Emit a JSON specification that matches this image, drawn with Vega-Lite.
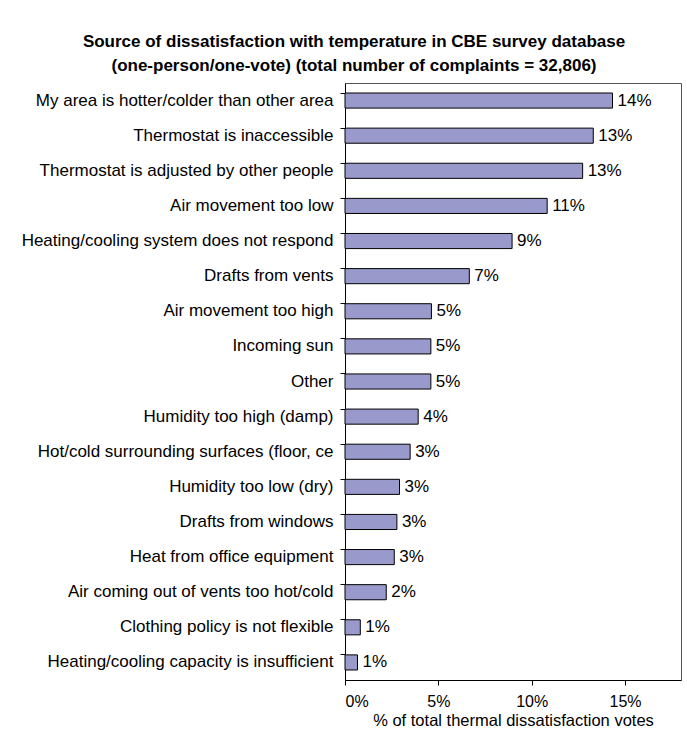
{
  "$schema": "https://vega.github.io/schema/vega-lite/v6.json",
  "autosize": {"type": "none"},
  "padding": {"left": 345, "top": 83, "right": 6, "bottom": 51},
  "width": 336,
  "height": 597,
  "background": "white",
  "config": {
    "font": "Liberation Sans",
    "view": {"stroke": "#555555", "strokeWidth": 1},
    "axis": {"labelFont": "Liberation Sans", "titleFont": "Liberation Sans", "labelColor": "black", "titleColor": "black", "domainColor": "black", "tickColor": "black", "grid": false}
  },
  "title": {
    "text": ["Source of dissatisfaction with temperature in CBE survey database", "(one-person/one-vote) (total number of complaints = 32,806)"],
    "font": "Liberation Sans",
    "fontSize": 17,
    "fontWeight": "bold",
    "color": "black",
    "anchor": "middle",
    "frame": "group",
    "dx": -159,
    "offset": 8,
    "lineHeight": 24.5
  },
  "data": {
    "values": [
      {"source": "My area is hotter/colder than other area", "share": 0.1433},
      {"source": "Thermostat is inaccessible", "share": 0.133},
      {"source": "Thermostat is adjusted by other people", "share": 0.1273},
      {"source": "Air movement too low", "share": 0.1083},
      {"source": "Heating/cooling system does not respond", "share": 0.0895},
      {"source": "Drafts from vents", "share": 0.0666},
      {"source": "Air movement too high", "share": 0.0463},
      {"source": "Incoming sun", "share": 0.046},
      {"source": "Other", "share": 0.046},
      {"source": "Humidity too high (damp)", "share": 0.0392},
      {"source": "Hot/cold surrounding surfaces (floor, ce", "share": 0.0349},
      {"source": "Humidity too low (dry)", "share": 0.0292},
      {"source": "Drafts from windows", "share": 0.0278},
      {"source": "Heat from office equipment", "share": 0.0264},
      {"source": "Air coming out of vents too hot/cold", "share": 0.0221},
      {"source": "Clothing policy is not flexible", "share": 0.0082},
      {"source": "Heating/cooling capacity is insufficient", "share": 0.0067}
    ]
  },
  "encoding": {
    "y": {
      "field": "source",
      "type": "nominal",
      "sort": null,
      "scale": {"paddingInner": 0.57, "paddingOuter": 0.285},
      "axis": {"title": null, "labelFontSize": 17, "labelPadding": 7, "tickSize": 5, "bandPosition": 0, "labelLimit": 340}
    },
    "x": {
      "field": "share",
      "type": "quantitative",
      "scale": {"domain": [0, 0.18], "nice": false},
      "axis": {"values": [0, 0.05, 0.1, 0.15], "format": ".0%", "labelFontSize": 16, "tickSize": 5, "labelPadding": 8, "title": "% of total thermal dissatisfaction votes", "titleFontSize": 16.5, "titleFontWeight": "normal", "titlePadding": 3}
    }
  },
  "layer": [
    {"mark": {"type": "bar", "color": "#9999CC", "stroke": "black", "strokeWidth": 1}},
    {
      "mark": {"type": "text", "align": "left", "baseline": "middle", "dx": 5, "fontSize": 17, "color": "black"},
      "encoding": {"text": {"field": "share", "type": "quantitative", "format": ".0%"}}
    }
  ]
}
